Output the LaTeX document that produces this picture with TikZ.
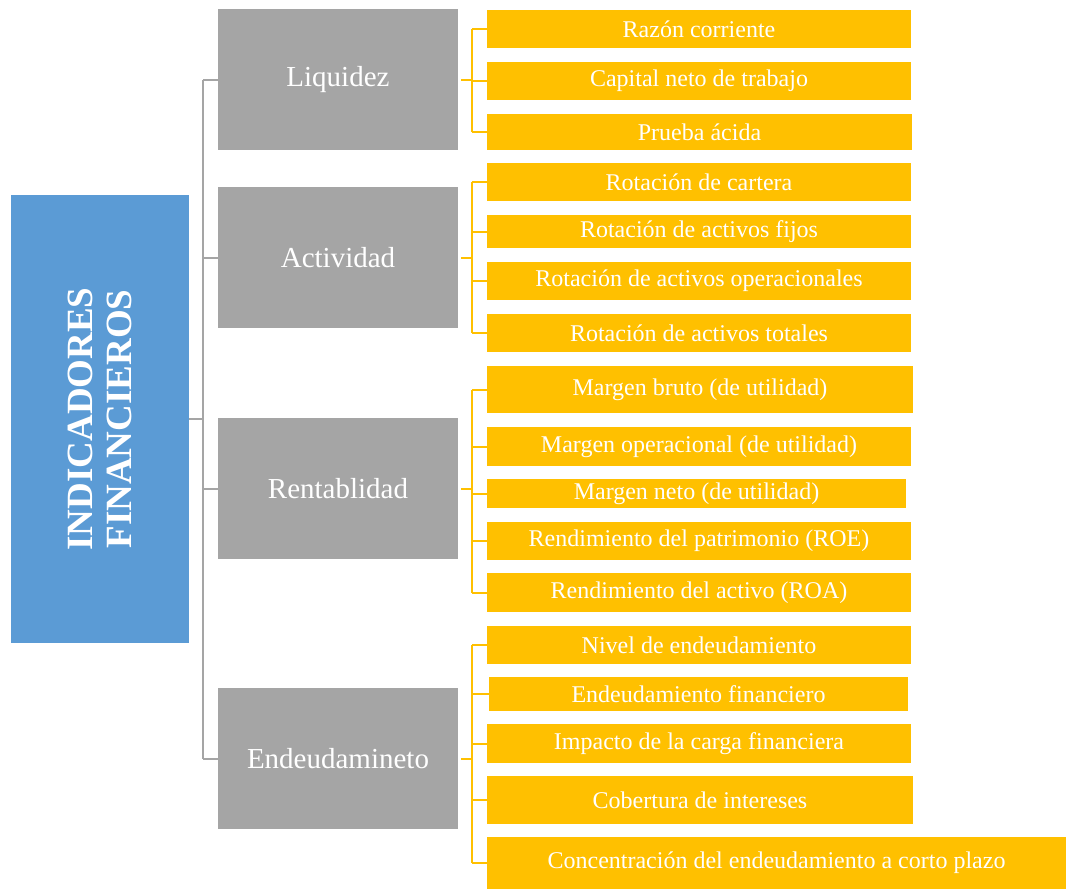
\documentclass[tikz,border=0pt]{standalone}
\usepackage{fontspec}
\setmainfont{Liberation Serif}
\definecolor{ybg}{HTML}{FFC000}
\definecolor{gbg}{HTML}{A5A5A5}
\definecolor{bbg}{HTML}{5B9BD5}
\newcommand\mkbox[7]{\node[#1, minimum width={(#5-#3)*0.75pt}, minimum height={(#6-#4)*0.75pt}] (#2) at ({(#3+#5)/2},{(#4+#6)/2}) {#7};}
\begin{document}
\begin{tikzpicture}[x=0.75pt,y=-0.75pt,
  basebox/.style={inner sep=0pt, outer sep=0pt, text=white, align=center},
  ybox/.style={basebox, fill=ybg, font=\fontsize{18}{20}\selectfont},
  gbox/.style={basebox, fill=gbg, font=\fontsize{21.75}{24}\selectfont},
  bbox/.style={basebox, fill=bbg},
  yline/.style={draw=ybg, line width=1.5pt},
  gline/.style={draw=gbg, line width=1.5pt}]
\useasboundingbox (0,0) rectangle (1066,890);
% title
\mkbox{bbox}{ind}{11}{195}{189}{643}{}
\node[text=white, rotate=90, align=center, font=\bfseries\fontsize{27.75}{29.5}\selectfont] (indt) at (ind.center) {INDICADORES\\FINANCIEROS};
% gray boxes
\mkbox{gbox}{liq}{218}{9}{458}{150}{Liquidez}
\mkbox{gbox}{act}{218}{187}{458}{328}{Actividad}
\mkbox{gbox}{ren}{218}{418}{458}{559}{Rentablidad}
\mkbox{gbox}{end}{218}{688}{458}{829}{Endeudamineto}
% yellow boxes
\mkbox{ybox}{a1}{487}{10}{911}{48}{Razón corriente}
\mkbox{ybox}{a2}{487}{62}{911}{100}{Capital neto de trabajo}
\mkbox{ybox}{a3}{487}{114}{912}{150}{Prueba ácida}
\mkbox{ybox}{b1}{487}{163}{911}{201}{Rotación de cartera}
\mkbox{ybox}{b2}{487}{215}{911}{248}{Rotación de activos fijos}
\mkbox{ybox}{b3}{487}{262}{911}{300}{Rotación de activos operacionales}
\mkbox{ybox}{b4}{487}{314}{911}{352}{Rotación de activos totales}
\mkbox{ybox}{c1}{487}{366}{913}{413}{Margen bruto (de utilidad)}
\mkbox{ybox}{c2}{487}{427}{911}{466}{Margen operacional (de utilidad)}
\mkbox{ybox}{c3}{487}{479}{906}{508}{Margen neto (de utilidad)}
\mkbox{ybox}{c4}{487}{522}{911}{560}{Rendimiento del patrimonio (ROE)}
\mkbox{ybox}{c5}{487}{573}{911}{612}{Rendimiento del activo (ROA)}
\mkbox{ybox}{d1}{487}{626}{911}{664}{Nivel de endeudamiento}
\mkbox{ybox}{d2}{489}{677}{908}{711}{Endeudamiento financiero}
\mkbox{ybox}{d3}{487}{724}{911}{763}{Impacto de la carga financiera}
\mkbox{ybox}{d4}{487}{776}{913}{824}{Cobertura de intereses}
\mkbox{ybox}{d5}{487}{837}{1066}{889}{Concentración del endeudamiento a corto plazo}
% gray trunk
\coordinate (tr) at (203,419);
\draw[gline] (ind.east) -- (ind.east -| tr);
\draw[gline] (liq.west -| tr) -- (end.west -| tr);
\foreach \g in {liq,act,ren,end}{\draw[gline] (\g.west -| tr) -- (\g.west);}
% yellow brackets
\coordinate (jx) at (472,0);
\foreach \g/\f/\l/\cs in {liq/a1/a3/{a1,a2,a3}, act/b1/b4/{b1,b2,b3,b4}, ren/c1/c5/{c1,c2,c3,c4,c5}, end/d1/d5/{d1,d2,d3,d4,d5}}{
  \draw[yline, shorten <=3*0.75pt] (\g.east) -- (\g.east -| jx);
  \draw[yline] (\f.west -| jx) -- (\l.west -| jx);
  \foreach \c in \cs {\draw[yline] (\c.west -| jx) -- (\c.west);}
}
\end{tikzpicture}
\end{document}
